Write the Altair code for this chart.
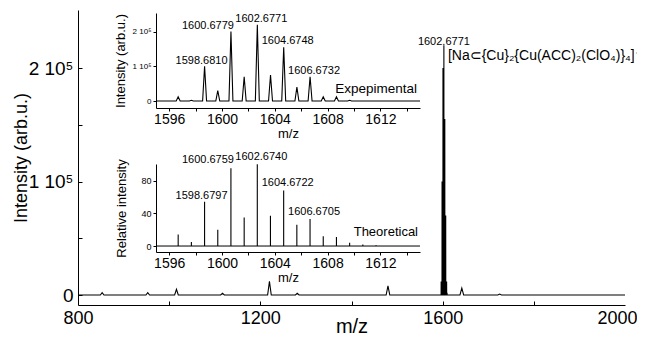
import altair as alt
import pandas as pd

FONT = "Liberation Sans, Arial, Helvetica, sans-serif"

# ---------------- data ----------------
# Experimental isotope pattern (m/z, intensity arb.u.)
exp_mz = [1596.68, 1597.68, 1598.681, 1599.68, 1600.678, 1601.68, 1602.677,
          1603.676, 1604.675, 1605.674, 1606.673, 1607.67, 1608.67, 1609.67]
exp_int = [12000, 2000, 100000, 30000, 200000, 70000, 220000,
           75000, 155000, 40000, 70000, 12000, 12000, 2000]

# Theoretical isotope pattern (relative intensity)
theo_mz = [1596.68, 1597.68, 1598.68, 1599.68, 1600.676, 1601.68, 1602.674, 1603.67,
           1604.672, 1605.67, 1606.67, 1607.67, 1608.67, 1609.67, 1610.67, 1611.67]
theo_rel = [14, 5, 54, 20, 95, 35, 100, 37, 68, 26, 33, 12, 11, 4, 2, 1]

# Weak side signals of the full spectrum
side_mz = [853, 953, 1016, 1117, 1220, 1281, 1480, 1642, 1725]
side_int = [2000, 2000, 5000, 1500, 12000, 1500, 8000, 6000, 800]

# Peak annotations
exp_lab_text = ["1598.6810", "1600.6779", "1602.6771", "1604.6748", "1606.6732"]
exp_lab_mz = [1598.681, 1600.678, 1602.677, 1604.675, 1606.673]
exp_lab_int = [100000, 200000, 220000, 155000, 70000]

theo_lab_text = ["1598.6797", "1600.6759", "1602.6740", "1604.6722", "1606.6705"]
theo_lab_mz = [1598.68, 1600.676, 1602.674, 1604.672, 1606.67]
theo_lab_rel = [54, 95, 100, 68, 33]

main_lab_text = ["1602.6771"]
main_lab_mz = [1602.677]
main_lab_int = [220000]
formula = "[Na\u2282{Cu}\u2082{Cu(ACC)\u2082(ClO\u2084)}\u2084]\u207a"

# ---------------- helpers ----------------
def profile(centers, heights, half, start, end):
    xs, ys = [start, end], [0, 0]
    for c, h in zip(centers, heights):
        xs += [c - half, c, c + half]
        ys += [0, h, 0]
    return pd.DataFrame({"mz": xs, "I": ys})

main_df = pd.concat([profile(exp_mz, exp_int, 0.15, 800, 2000),
                     profile(side_mz, side_int, 4, 800, 2000)])
main_df = main_df.sort_values("mz").reset_index(drop=True)
main_df["k"] = range(len(main_df))

exp_df = profile(exp_mz, exp_int, 0.15, 1595, 1615).sort_values("mz").reset_index(drop=True)
exp_df["k"] = range(len(exp_df))
theo_df = pd.DataFrame({"mz": theo_mz, "rel": theo_rel, "zero": [0] * len(theo_mz)})
theo_base = pd.DataFrame({"mz": [1595, 1615], "rel": [0, 0]})

W, H = 547, 295

main_x = alt.Scale(domain=[800, 2000], nice=False, zero=False)
main_y = alt.Scale(domain=[-8800, 251100], nice=False, zero=False)
ins_x = alt.Scale(domain=[1595, 1615], range=[78, 342], nice=False, zero=False)
exp_y = alt.Scale(domain=[-20170, 253600], range=[98, 3], nice=False, zero=False)
theo_y = alt.Scale(domain=[-7.3, 100.3], range=[242, 154], nice=False, zero=False)

common_axis = dict(grid=False, domainColor="black", tickColor="black", labelColor="black",
                   titleColor="black", titleFontWeight="normal", labelFont=FONT, titleFont=FONT,
                   labelFlush=False)

sup_expr = "datum.value == 0 ? '0' : format(datum.value / 100000, 'd') + ' 10\u2075'"

# ---------------- main spectrum ----------------
main_line = alt.Chart(main_df).mark_line(color="black", strokeWidth=1.1).encode(
    x=alt.X("mz:Q", scale=main_x, axis=alt.Axis(
        orient="bottom", title="m/z", values=[800, 1200, 1600, 2000], format="d",
        tickSize=0, labelPadding=4, labelFontSize=18, titleFontSize=20,
        labelAlign={"condition": {"test": "datum.value == 2000", "value": "right"}, "value": "center"},
        labelOffset={"condition": {"test": "datum.value == 2000", "value": 12}, "value": 0},
        titleY=27, titleBaseline="alphabetic",
        **common_axis)),
    y=alt.Y("I:Q", scale=main_y, axis=alt.Axis(
        orient="left", title="Intensity (arb.u.)", values=[0, 100000, 200000],
        labelExpr=sup_expr, tickSize=0, labelPadding=5, labelFontSize=19,
        titleFontSize=18, titleX=-57, titleBaseline="middle", **common_axis)),
    order="k:Q",
)

main_ticks = alt.Chart(main_df).mark_point(opacity=0).encode(
    x=alt.X("mz:Q", scale=main_x, axis=alt.Axis(
        orient="top", offset=-H, values=[1000, 1200, 1400, 1600, 1800], labels=False,
        domain=False, tickSize=4, title=None, grid=False, tickColor="black")),
    y=alt.Y("I:Q", scale=main_y, axis=alt.Axis(
        orient="right", offset=-W, values=[0, 50000, 100000, 150000, 200000], labels=False,
        domain=False, tickSize=4, title=None, grid=False, tickColor="black")),
)

main_lab_df = pd.DataFrame({"mz": main_lab_mz, "I": main_lab_int, "t": main_lab_text})
main_lab = alt.Chart(main_lab_df).mark_text(
    font=FONT, fontSize=11, align="center", baseline="alphabetic", dy=0, color="black"
).encode(x=alt.X("mz:Q", scale=main_x, axis=None), y=alt.Y("I:Q", scale=main_y, axis=None), text="t:N")

form_df = pd.DataFrame({"mz": main_lab_mz, "I": main_lab_int, "t": [formula]})
main_form = alt.Chart(form_df).mark_text(
    font=FONT, fontSize=14, align="left", baseline="alphabetic", dx=4, dy=15, color="black"
).encode(x=alt.X("mz:Q", scale=main_x, axis=None), y=alt.Y("I:Q", scale=main_y, axis=None), text="t:N")

# ---------------- experimental inset ----------------
ins_x_vals = [1596, 1598, 1600, 1602, 1604, 1606, 1608, 1610, 1612, 1614]
ins_x_expr = "datum.value % 4 == 0 ? format(datum.value, 'd') : ''"

exp_line = alt.Chart(exp_df).mark_line(color="black", strokeWidth=1.1).encode(
    x=alt.X("mz:Q", scale=ins_x, axis=alt.Axis(
        orient="bottom", offset=98 - H, title="m/z", values=ins_x_vals, labelExpr=ins_x_expr,
        tickSize=3, labelPadding=1, labelFontSize=14, titleFontSize=13, titlePadding=1,
        **common_axis)),
    y=alt.Y("I:Q", scale=exp_y, axis=alt.Axis(
        orient="left", offset=-78, title="Intensity (arb.u.)", values=[0, 100000, 200000],
        labelExpr=sup_expr, tickSize=3, labelPadding=2, labelFontSize=8,
        titleFontSize=13, titlePadding=5, **common_axis)),
    order="k:Q",
)

exp_lab_df = pd.DataFrame({"mz": exp_lab_mz, "I": exp_lab_int, "t": exp_lab_text})

def peak_labels(df, yfield, yscale, test, align, dx, dy):
    return alt.Chart(df).transform_filter(test).mark_text(
        font=FONT, fontSize=11, align=align, baseline="alphabetic", dx=dx, dy=dy, color="black"
    ).encode(x=alt.X("mz:Q", scale=ins_x, axis=None),
             y=alt.Y(yfield, scale=yscale, axis=None), text="t:N")

exp_lab_a = peak_labels(exp_lab_df, "I:Q", exp_y, "datum.mz > 1601", "center", 4, -3)
exp_lab_b = peak_labels(exp_lab_df, "I:Q", exp_y, "datum.mz > 1600 && datum.mz < 1601", "right", 3, -3)
exp_lab_c = peak_labels(exp_lab_df, "I:Q", exp_y, "datum.mz < 1600", "center", -3, -2)

exp_name_df = pd.DataFrame({"mz": [1615], "I": [0], "t": ["Expepimental"]})
exp_name = alt.Chart(exp_name_df).mark_text(
    font=FONT, fontSize=13.5, align="right", baseline="alphabetic", dx=-3, dy=-8, color="black"
).encode(x=alt.X("mz:Q", scale=ins_x, axis=None), y=alt.Y("I:Q", scale=exp_y, axis=None), text="t:N")

# ---------------- theoretical inset ----------------
theo_rules = alt.Chart(theo_df).mark_rule(color="black", strokeWidth=1.1).encode(
    x=alt.X("mz:Q", scale=ins_x, axis=alt.Axis(
        orient="bottom", offset=242 - H, title="m/z", values=ins_x_vals, labelExpr=ins_x_expr,
        tickSize=3, labelPadding=1, labelFontSize=14, titleFontSize=13, titlePadding=1,
        **common_axis)),
    y=alt.Y("rel:Q", scale=theo_y, axis=alt.Axis(
        orient="left", offset=-78, title="Relative intensity", values=[0, 40, 80],
        tickSize=3, labelPadding=2, labelFontSize=9, titleFontSize=13, titlePadding=12,
        **common_axis)),
    y2="zero:Q",
)
theo_line = alt.Chart(theo_base).mark_line(color="black", strokeWidth=1).encode(
    x=alt.X("mz:Q", scale=ins_x, axis=None), y=alt.Y("rel:Q", scale=theo_y, axis=None))

theo_lab_df = pd.DataFrame({"mz": theo_lab_mz, "rel": theo_lab_rel, "t": theo_lab_text})
theo_lab_a = peak_labels(theo_lab_df, "rel:Q", theo_y, "datum.mz > 1601", "center", 4, -4)
theo_lab_b = peak_labels(theo_lab_df, "rel:Q", theo_y, "datum.mz > 1600 && datum.mz < 1601", "right", 3, -5)
theo_lab_c = peak_labels(theo_lab_df, "rel:Q", theo_y, "datum.mz < 1600", "center", -3, -3)

theo_name_df = pd.DataFrame({"mz": [1615], "rel": [0], "t": ["Theoretical"]})
theo_name = alt.Chart(theo_name_df).mark_text(
    font=FONT, fontSize=13, align="right", baseline="alphabetic", dx=-2, dy=-10, color="black"
).encode(x=alt.X("mz:Q", scale=ins_x, axis=None), y=alt.Y("rel:Q", scale=theo_y, axis=None), text="t:N")

chart = alt.layer(
    main_line, main_ticks, main_lab, main_form,
    exp_line, exp_lab_a, exp_lab_b, exp_lab_c, exp_name,
    theo_rules, theo_line, theo_lab_a, theo_lab_b, theo_lab_c, theo_name,
).resolve_scale(x="independent", y="independent").properties(
    width=W, height=H,
    autosize=alt.AutoSizeParams(type="none"),
    padding={"left": 70, "top": 2, "right": 12, "bottom": 30},
).configure_view(strokeWidth=0).configure_axis(grid=False)

chart.save("out.html", embed_options={"renderer": "svg", "actions": False})
